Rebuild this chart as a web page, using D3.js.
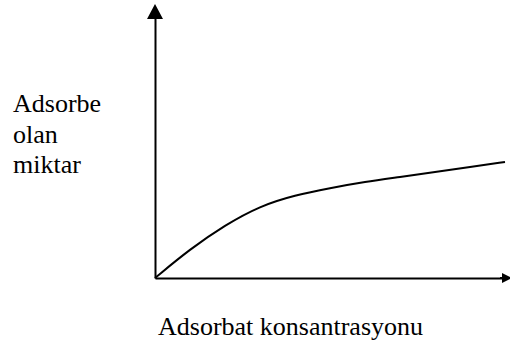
<!DOCTYPE html>
<html>
<head>
<meta charset="utf-8">
<script src="https://cdn.jsdelivr.net/npm/d3@7"></script>
<style>
  html, body { margin: 0; padding: 0; background: #fff; }
  svg { display: block; }
  .lbl { font-family: "Liberation Serif", "DejaVu Serif", serif; }
</style>
</head>
<body>
<svg id="chart" width="510" height="345"></svg>
<script>
// Adsorption isotherm: amount adsorbed vs. adsorbate concentration (arbitrary units)
const concentration = [0, 1, 2, 3, 4, 5, 6, 7, 8, 9, 10];
const adsorbed      = [0, 1.07, 1.96, 2.67, 3.07, 3.33, 3.56, 3.74, 3.93, 4.11, 4.30];
const yLabelLines   = ["Adsorbe", "olan", "miktar"];
const xLabel        = "Adsorbat konsantrasyonu";

const svg = d3.select("#chart");

const x = d3.scaleLinear().domain([0, 10]).range([155, 505]);
const y = d3.scaleLinear().domain([0, 10]).range([278, 8]);

// arrow head for the horizontal axis
const defs = svg.append("defs");
defs.append("marker")
  .attr("id", "arrow")
  .attr("viewBox", "0 0 10 10")
  .attr("refX", 0).attr("refY", 5)
  .attr("markerWidth", 10).attr("markerHeight", 15)
  .attr("markerUnits", "userSpaceOnUse")
  .attr("orient", "auto")
  .append("path")
  .attr("d", "M0,0 L10,5 L0,10 Z")
  .attr("fill", "#000");

// axes without ticks
const xAxis = d3.axisBottom(x).tickValues([]).tickSizeOuter(0);
const yAxis = d3.axisLeft(y).tickValues([]).tickSizeOuter(0);

svg.append("g").attr("transform", `translate(0,${y(0)})`).call(xAxis)
  .select(".domain").attr("stroke", "#000").attr("stroke-width", 2);
svg.append("g").attr("transform", `translate(${x(0)},0)`).call(yAxis)
  .select(".domain").attr("stroke", "#000").attr("stroke-width", 2);

// axis extensions ending in arrow heads
svg.append("line")
  .attr("x1", x(10) - 5).attr("y1", y(0)).attr("x2", 502).attr("y2", y(0))
  .attr("stroke", "#000").attr("stroke-width", 2)
  .attr("marker-end", "url(#arrow)");
svg.append("line")
  .attr("x1", x(0)).attr("y1", y(10) + 5).attr("x2", x(0)).attr("y2", 19)
  .attr("stroke", "#000").attr("stroke-width", 2);
svg.append("path")
  .attr("d", `M${x(0)},4 L${x(0) + 8},19 L${x(0) - 8},19 Z`)
  .attr("fill", "#000");

// isotherm curve
const line = d3.line()
  .x((d, i) => x(concentration[i]))
  .y(d => y(d))
  .curve(d3.curveBasis);

svg.append("path")
  .datum(adsorbed)
  .attr("d", line)
  .attr("fill", "none")
  .attr("stroke", "#000")
  .attr("stroke-width", 2);

// labels
svg.append("g").selectAll("text")
  .data(yLabelLines)
  .join("text")
  .attr("class", "lbl")
  .attr("x", 13)
  .attr("y", (d, i) => 112 + i * 30.5)
  .style("font-size", "26px")
  .attr("fill", "#000")
  .text(d => d);

svg.append("text")
  .attr("class", "lbl")
  .attr("x", 158)
  .attr("y", 335)
  .style("font-size", "26px")
  .attr("fill", "#000")
  .text(xLabel);
</script>
</body>
</html>
